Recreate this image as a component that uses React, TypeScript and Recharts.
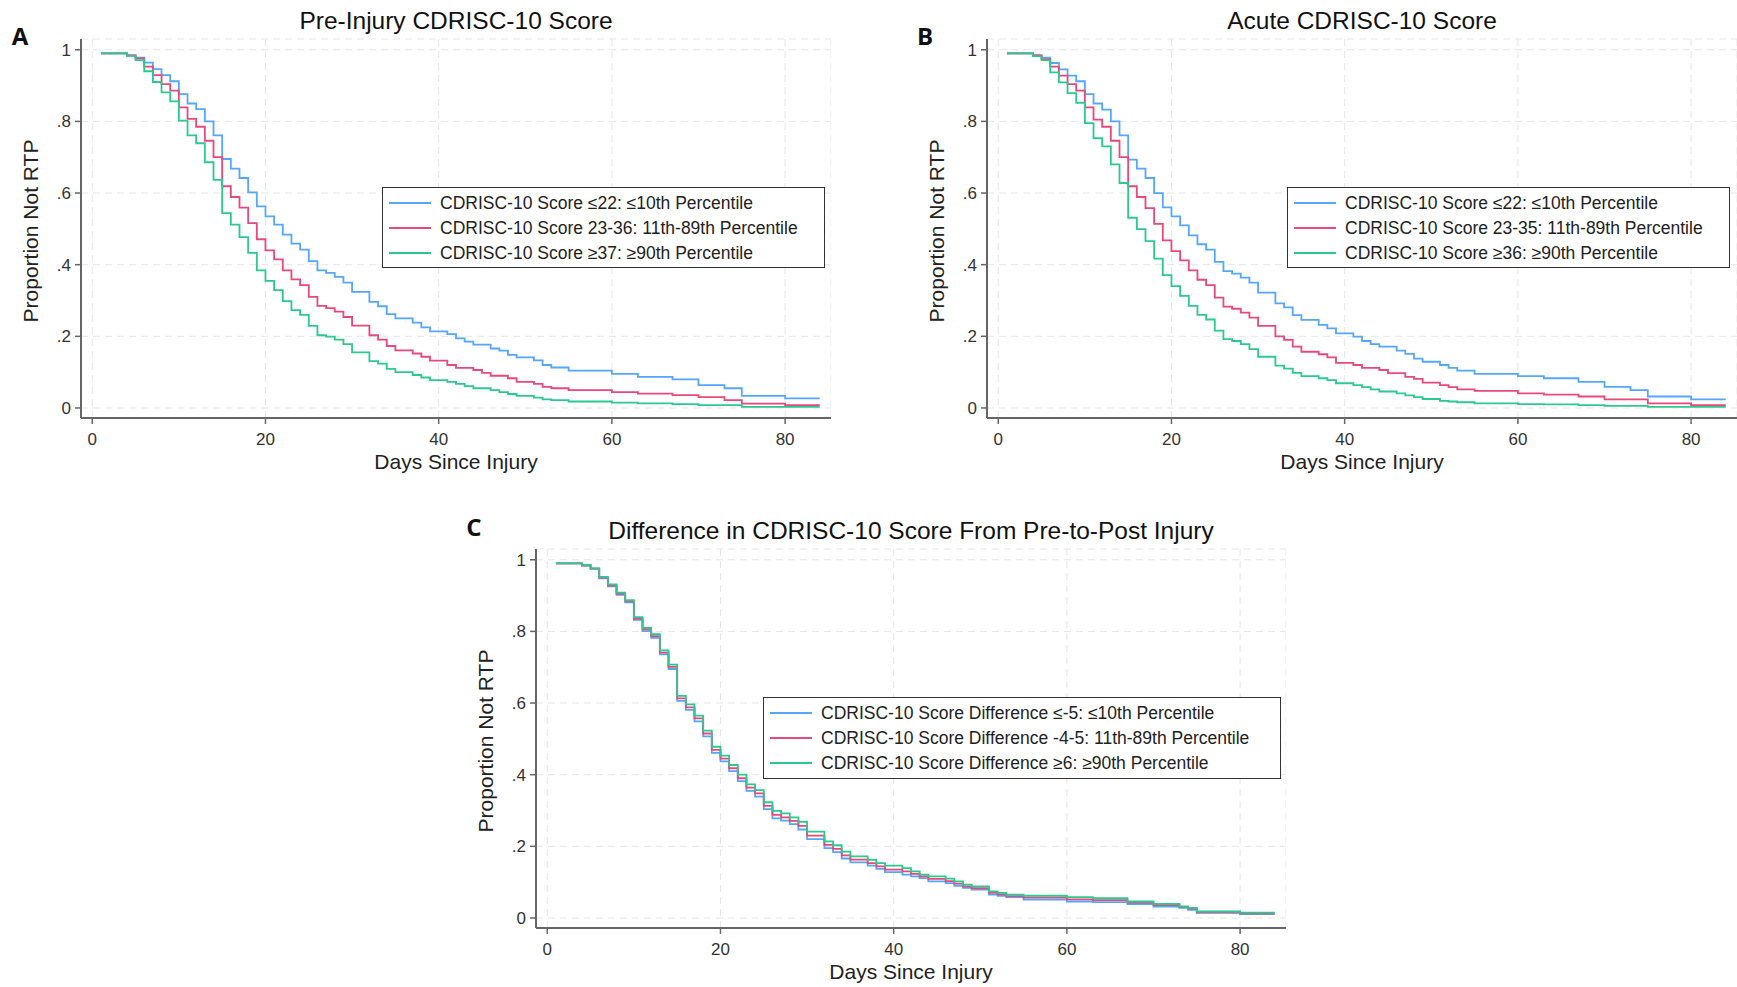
import { CartesianGrid, Line, LineChart, XAxis, YAxis } from "recharts";

// tick values shared by every panel
const xTicks = [0, 20, 40, 60, 80];
const yTicks = [0, 0.2, 0.4, 0.6, 0.8, 1];

// Panel A: Pre-injury score, change points of each KM step curve
const aLowDays = [1, 4, 5, 6, 7, 8, 9, 10, 11, 12, 13, 14, 15, 16, 17, 18, 19, 20, 21, 22, 23, 24, 25, 26, 27, 28, 29, 30, 32, 33, 34, 35, 37, 38, 39, 41, 42, 43, 44, 46, 47, 48, 49, 51, 52, 53, 55, 60, 63, 67, 70, 73, 75, 80, 84];
const aLowVals = [0.99, 0.983, 0.978, 0.964, 0.946, 0.929, 0.912, 0.876, 0.85, 0.834, 0.8, 0.761, 0.695, 0.668, 0.642, 0.602, 0.563, 0.535, 0.512, 0.484, 0.459, 0.442, 0.41, 0.384, 0.377, 0.366, 0.35, 0.324, 0.296, 0.284, 0.262, 0.25, 0.238, 0.225, 0.214, 0.206, 0.194, 0.185, 0.177, 0.166, 0.16, 0.148, 0.141, 0.133, 0.12, 0.113, 0.104, 0.095, 0.087, 0.08, 0.064, 0.055, 0.034, 0.027, 0.027];
const aMidDays = [1, 4, 5, 6, 7, 8, 9, 10, 11, 12, 13, 14, 15, 16, 17, 18, 19, 20, 21, 22, 23, 24, 25, 26, 27, 28, 29, 30, 32, 33, 34, 35, 37, 38, 39, 41, 42, 44, 45, 46, 48, 49, 51, 52, 53, 55, 60, 63, 67, 70, 73, 75, 80, 84];
const aMidVals = [0.99, 0.985, 0.976, 0.953, 0.929, 0.904, 0.886, 0.839, 0.807, 0.785, 0.746, 0.7, 0.619, 0.589, 0.559, 0.516, 0.471, 0.44, 0.415, 0.384, 0.359, 0.343, 0.31, 0.285, 0.279, 0.269, 0.254, 0.23, 0.203, 0.191, 0.173, 0.161, 0.152, 0.143, 0.132, 0.12, 0.112, 0.106, 0.098, 0.09, 0.083, 0.073, 0.067, 0.059, 0.055, 0.05, 0.044, 0.04, 0.036, 0.03, 0.022, 0.012, 0.008, 0.008];
const aHighDays = [1, 4, 5, 6, 7, 8, 9, 10, 11, 12, 13, 14, 15, 16, 17, 18, 19, 20, 21, 22, 23, 24, 25, 26, 27, 28, 29, 30, 32, 33, 34, 35, 37, 38, 39, 41, 42, 43, 44, 46, 47, 48, 49, 51, 52, 53, 55, 60, 63, 67, 70, 75, 84];
const aHighVals = [0.99, 0.983, 0.971, 0.94, 0.91, 0.881, 0.856, 0.802, 0.761, 0.739, 0.686, 0.637, 0.544, 0.512, 0.477, 0.433, 0.384, 0.355, 0.329, 0.298, 0.273, 0.26, 0.229, 0.203, 0.199, 0.191, 0.178, 0.155, 0.131, 0.124, 0.109, 0.1, 0.092, 0.085, 0.078, 0.073, 0.067, 0.061, 0.055, 0.05, 0.044, 0.039, 0.034, 0.029, 0.024, 0.022, 0.018, 0.015, 0.013, 0.011, 0.008, 0.003, 0.003];

// Panel B: Acute score
const bLowDays = [1, 4, 5, 6, 7, 8, 9, 10, 11, 12, 13, 14, 15, 16, 17, 18, 19, 20, 21, 22, 23, 24, 25, 26, 27, 28, 29, 30, 32, 33, 34, 35, 37, 38, 39, 41, 42, 43, 44, 46, 47, 48, 49, 51, 52, 53, 55, 60, 63, 67, 70, 73, 75, 80, 84];
const bLowVals = [0.99, 0.983, 0.978, 0.963, 0.945, 0.928, 0.912, 0.876, 0.85, 0.833, 0.8, 0.761, 0.693, 0.668, 0.642, 0.6, 0.56, 0.535, 0.51, 0.482, 0.457, 0.442, 0.408, 0.382, 0.375, 0.364, 0.35, 0.322, 0.292, 0.281, 0.259, 0.246, 0.232, 0.222, 0.208, 0.199, 0.187, 0.178, 0.171, 0.16, 0.151, 0.138, 0.129, 0.12, 0.112, 0.104, 0.095, 0.089, 0.083, 0.073, 0.059, 0.05, 0.032, 0.024, 0.024];
const bMidDays = [1, 4, 5, 6, 7, 8, 9, 10, 11, 12, 13, 14, 15, 16, 17, 18, 19, 20, 21, 22, 23, 24, 25, 26, 27, 28, 29, 30, 32, 33, 34, 35, 37, 38, 39, 41, 42, 44, 45, 47, 48, 49, 51, 52, 53, 55, 60, 63, 67, 70, 75, 80, 84];
const bMidVals = [0.99, 0.985, 0.974, 0.953, 0.928, 0.904, 0.886, 0.839, 0.805, 0.785, 0.746, 0.7, 0.619, 0.589, 0.558, 0.514, 0.468, 0.438, 0.412, 0.384, 0.358, 0.343, 0.308, 0.283, 0.277, 0.266, 0.252, 0.229, 0.2, 0.19, 0.171, 0.157, 0.15, 0.141, 0.126, 0.12, 0.112, 0.106, 0.097, 0.087, 0.081, 0.071, 0.064, 0.058, 0.052, 0.048, 0.041, 0.037, 0.032, 0.024, 0.013, 0.008, 0.008];
const bHighDays = [1, 4, 5, 6, 7, 8, 9, 10, 11, 12, 13, 14, 15, 16, 17, 18, 19, 20, 21, 22, 23, 24, 25, 26, 27, 28, 29, 30, 32, 33, 34, 35, 37, 38, 39, 41, 42, 43, 44, 46, 47, 48, 49, 51, 52, 53, 55, 60, 63, 67, 70, 75, 84];
const bHighVals = [0.99, 0.982, 0.971, 0.937, 0.909, 0.879, 0.852, 0.795, 0.753, 0.73, 0.68, 0.628, 0.531, 0.499, 0.466, 0.417, 0.371, 0.34, 0.313, 0.285, 0.26, 0.247, 0.216, 0.192, 0.187, 0.178, 0.164, 0.143, 0.118, 0.11, 0.098, 0.089, 0.083, 0.078, 0.069, 0.064, 0.058, 0.052, 0.046, 0.041, 0.035, 0.03, 0.025, 0.02, 0.018, 0.016, 0.013, 0.011, 0.01, 0.008, 0.006, 0.003, 0.003];

// Panel C: difference pre-to-post
const cDays = [1, 4, 5, 6, 7, 8, 9, 10, 11, 12, 13, 14, 15, 16, 17, 18, 19, 20, 21, 22, 23, 24, 25, 26, 27, 28, 29, 30, 32, 33, 34, 35, 37, 38, 39, 41, 42, 43, 44, 46, 47, 48, 49, 51, 52, 53, 55, 60, 63, 67, 70, 73, 74, 75, 80, 84];
const cLowVals = [0.99, 0.984, 0.975, 0.948, 0.926, 0.902, 0.881, 0.832, 0.801, 0.782, 0.736, 0.695, 0.606, 0.581, 0.549, 0.507, 0.461, 0.437, 0.41, 0.382, 0.355, 0.339, 0.304, 0.278, 0.272, 0.262, 0.247, 0.22, 0.195, 0.184, 0.166, 0.155, 0.146, 0.137, 0.128, 0.121, 0.116, 0.111, 0.102, 0.097, 0.09, 0.084, 0.079, 0.065, 0.062, 0.058, 0.051, 0.046, 0.044, 0.039, 0.032, 0.028, 0.023, 0.014, 0.011, 0.011];
const cMidVals = [0.99, 0.984, 0.975, 0.95, 0.928, 0.905, 0.884, 0.836, 0.806, 0.787, 0.741, 0.701, 0.613, 0.588, 0.557, 0.515, 0.469, 0.445, 0.418, 0.39, 0.364, 0.348, 0.313, 0.288, 0.281, 0.271, 0.257, 0.23, 0.204, 0.193, 0.175, 0.163, 0.153, 0.144, 0.135, 0.13, 0.123, 0.116, 0.109, 0.103, 0.096, 0.088, 0.083, 0.07, 0.066, 0.061, 0.057, 0.052, 0.05, 0.043, 0.036, 0.03, 0.026, 0.016, 0.013, 0.013];
const cHighVals = [0.99, 0.985, 0.976, 0.952, 0.931, 0.908, 0.887, 0.84, 0.81, 0.792, 0.747, 0.707, 0.62, 0.596, 0.565, 0.523, 0.478, 0.453, 0.427, 0.4, 0.373, 0.357, 0.323, 0.299, 0.292, 0.281, 0.268, 0.241, 0.214, 0.203, 0.185, 0.172, 0.162, 0.153, 0.146, 0.139, 0.13, 0.121, 0.116, 0.11, 0.102, 0.093, 0.088, 0.074, 0.07, 0.065, 0.062, 0.058, 0.055, 0.046, 0.039, 0.032, 0.028, 0.018, 0.015, 0.015];

const aLabels = [
  "CDRISC-10 Score \u226422: \u226410th Percentile",
  "CDRISC-10 Score 23-36: 11th-89th Percentile",
  "CDRISC-10 Score \u226537: \u226590th Percentile",
];
const bLabels = [
  "CDRISC-10 Score \u226422: \u226410th Percentile",
  "CDRISC-10 Score 23-35: 11th-89th Percentile",
  "CDRISC-10 Score \u226536: \u226590th Percentile",
];
const cLabels = [
  "CDRISC-10 Score Difference \u2264-5: \u226410th Percentile",
  "CDRISC-10 Score Difference -4-5: 11th-89th Percentile",
  "CDRISC-10 Score Difference \u22656: \u226590th Percentile",
];

const COLORS = ["#55a6ff", "#e8497a", "#2cc98f"];
const FONT = "'Liberation Sans', Arial, Helvetica, sans-serif";

const toPts = (days: number[], vals: number[]) => days.map((day, i) => ({ day, v: vals[i] }));
const fmtY = (v: number) => (v === 0 ? "0" : v === 1 ? "1" : String(v).replace(/^0/, ""));

const PW = 750;
const PH = 379;
const ML = 80;
const MT = 10;
const MB = 60;

type PanelProps = {
  left: number;
  top: number;
  letter: string;
  letterAt: [number, number];
  title: string;
  series: { days: number[]; vals: number[] }[];
  labels: string[];
  legend: { left: number; top: number; width: number; height: number };
};

function Panel({ left, top, letter, letterAt, title, series, labels, legend }: PanelProps) {
  const cx = left + PW / 2;
  return (
    <>
      <div style={{ position: "absolute", left: cx, top: top - 32, transform: "translateX(-50%)", fontSize: 24.5, whiteSpace: "nowrap", color: "#111" }}>
        {title}
      </div>
      <div
        style={{
          position: "absolute",
          left: letterAt[0],
          top: letterAt[1],
          transform: "translate(-50%, -50%)",
          fontSize: 24,
          fontWeight: 700,
          fontFamily: "'Open Sans', sans-serif",
          color: "#111",
        }}
      >
        {letter}
      </div>
      <div style={{ position: "absolute", left: cx, top: top + PH + 32, transform: "translateX(-50%)", fontSize: 21, whiteSpace: "nowrap", color: "#222" }}>
        Days Since Injury
      </div>
      <div style={{ position: "absolute", left: left - 50, top: top + 192, transform: "translate(-50%, -50%) rotate(-90deg)", fontSize: 21, whiteSpace: "nowrap", color: "#222" }}>
        Proportion Not RTP
      </div>
      <div style={{ position: "absolute", left: left - ML, top: top - MT }}>
        <LineChart width={ML + PW} height={MT + PH + MB} margin={{ top: MT, right: 0, bottom: 0, left: 0 }}>
          <CartesianGrid stroke="#e6e6e6" strokeDasharray="7 5" />
          <XAxis
            dataKey="day"
            type="number"
            domain={[-1.3, 85.3]}
            ticks={xTicks}
            allowDataOverflow
            height={MB}
            tickSize={6}
            tickMargin={9}
            axisLine={{ stroke: "#666", strokeWidth: 2 }}
            tickLine={{ stroke: "#666", strokeWidth: 1.5 }}
            tick={{ fontSize: 17, fill: "#333", fontFamily: FONT }}
          />
          <YAxis
            type="number"
            domain={[-0.028, 1.03]}
            ticks={yTicks}
            allowDataOverflow
            width={ML}
            tickSize={6}
            tickMargin={4}
            tickFormatter={fmtY}
            axisLine={{ stroke: "#666", strokeWidth: 2 }}
            tickLine={{ stroke: "#666", strokeWidth: 1.5 }}
            tick={{ fontSize: 17, fill: "#333", fontFamily: FONT }}
          />
          {series.map((s, i) => (
            <Line
              key={i}
              data={toPts(s.days, s.vals)}
              dataKey="v"
              type="stepAfter"
              stroke={COLORS[i]}
              strokeWidth={1.8}
              dot={false}
              activeDot={false}
              isAnimationActive={false}
            />
          ))}
        </LineChart>
      </div>
      <div
        style={{
          position: "absolute",
          left: legend.left,
          top: legend.top,
          width: legend.width,
          height: legend.height,
          border: "1.5px solid #333",
          background: "#fff",
          boxSizing: "border-box",
        }}
      >
        {labels.map((lab, i) => (
          <div key={i} style={{ position: "absolute", left: 6, top: 4 + i * 25, height: 22, display: "flex", alignItems: "center", whiteSpace: "nowrap" }}>
            <span style={{ display: "inline-block", width: 42, height: 2, background: COLORS[i], marginRight: 9 }} />
            <span style={{ fontSize: 17.5, color: "#222" }}>{lab}</span>
          </div>
        ))}
      </div>
    </>
  );
}

export default function App() {
  return (
    <div style={{ position: "relative", width: 1737, height: 987, overflow: "hidden", background: "#fff", fontFamily: FONT }}>
      <style>{"body{margin:0}"}</style>
      <Panel
        left={81}
        top={39}
        letter="A"
        letterAt={[20, 35]}
        title="Pre-Injury CDRISC-10 Score"
        series={[
          { days: aLowDays, vals: aLowVals },
          { days: aMidDays, vals: aMidVals },
          { days: aHighDays, vals: aHighVals },
        ]}
        labels={aLabels}
        legend={{ left: 382, top: 187, width: 443, height: 81 }}
      />
      <Panel
        left={987}
        top={39}
        letter="B"
        letterAt={[925, 35]}
        title="Acute CDRISC-10 Score"
        series={[
          { days: bLowDays, vals: bLowVals },
          { days: bMidDays, vals: bMidVals },
          { days: bHighDays, vals: bHighVals },
        ]}
        labels={bLabels}
        legend={{ left: 1287, top: 187, width: 443, height: 81 }}
      />
      <Panel
        left={536}
        top={549}
        letter="C"
        letterAt={[474, 526]}
        title="Difference in CDRISC-10 Score From Pre-to-Post Injury"
        series={[
          { days: cDays, vals: cLowVals },
          { days: cDays, vals: cMidVals },
          { days: cDays, vals: cHighVals },
        ]}
        labels={cLabels}
        legend={{ left: 763, top: 697, width: 518, height: 82 }}
      />
    </div>
  );
}
